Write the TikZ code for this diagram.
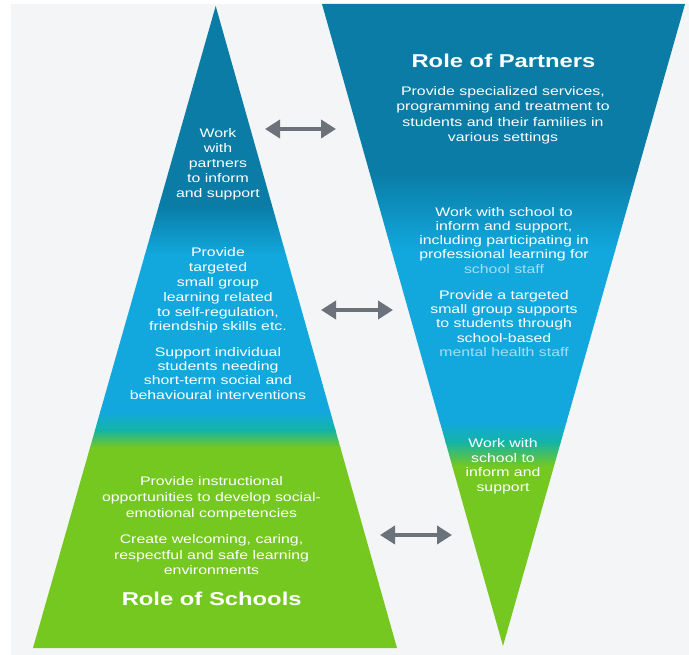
\documentclass[tikz,border=0pt]{standalone}
\usepackage{fontspec}
\setmainfont{Liberation Sans}[FakeStretch=1.28]
\usetikzlibrary{arrows.meta}

\definecolor{panel}{HTML}{F4F5F7}
\definecolor{deepblue}{RGB}{10,124,166}
\definecolor{skyblue}{RGB}{18,168,221}
\definecolor{tealband}{RGB}{20,180,165}
\definecolor{leafgreen}{RGB}{117,200,32}
\definecolor{arrowgray}{RGB}{107,114,121}
\definecolor{paletext}{RGB}{165,222,242}

\tikzset{
  body/.style={text=white, align=center, inner sep=0pt,
    font=\fontsize{12.4}{#1}\selectfont},
  body/.default=14.8,
  heading/.style={text=white, inner sep=0pt, anchor=base,
    font=\fontsize{18.6}{22}\selectfont\bfseries},
  bidir/.style={draw=arrowgray, line width=4pt,
    {Triangle[length=15pt,width=18pt]}-{Triangle[length=15pt,width=18pt]}},
}

\begin{document}
\begin{tikzpicture}[x=1pt,y=-1pt]
  % page and panel
  \useasboundingbox (0,0) rectangle (689,655);
  \fill[white] (0,0) rectangle (689,655);
  \fill[panel] (11,4) rectangle (689,655);

  % corners of the two triangles
  \coordinate (sApex) at (215.7,6);
  \coordinate (sRight) at (397,648);
  \coordinate (sLeft) at (33,648);
  \coordinate (pLeft) at (322,4);
  \coordinate (pRight) at (685,4);
  \coordinate (pTip) at (503,646);

  % schools pyramid: colour bands clipped to the triangle
  \begin{scope}
    \clip (sApex) -- (sRight) -- (sLeft) -- cycle;
    \fill[deepblue] (20,0) rectangle (410,205.5);
    \shade[top color=deepblue, bottom color=skyblue] (20,205) rectangle (410,255.5);
    \fill[skyblue] (20,255) rectangle (410,412.5);
    \shade[top color=skyblue, bottom color=tealband] (20,412) rectangle (410,430.5);
    \shade[top color=tealband, bottom color=leafgreen] (20,430) rectangle (410,447.5);
    \fill[leafgreen] (20,447) rectangle (410,660);
  \end{scope}

  % partners funnel: colour bands clipped to the triangle
  \begin{scope}
    \clip (pLeft) -- (pRight) -- (pTip) -- cycle;
    \fill[deepblue] (300,0) rectangle (689,172.5);
    \shade[top color=deepblue, bottom color=skyblue] (300,172) rectangle (689,250.5);
    \fill[skyblue] (300,250) rectangle (689,422.5);
    \shade[top color=skyblue, bottom color=tealband] (300,422) rectangle (689,442.5);
    \shade[top color=tealband, bottom color=leafgreen] (300,442) rectangle (689,466.5);
    \fill[leafgreen] (300,466) rectangle (689,660);
  \end{scope}

  % role of schools
  \node[body=15] (sPartners) at (218,164) {Work\\with\\partners\\to inform\\and support};
  \node[body=14.8] (sTargeted) at (218,290.7) {Provide\\targeted\\small group\\learning related\\to self-regulation,\\friendship skills etc.};
  \node[body=14.3] (sIndividual) at (218,373.3) {Support individual\\students needing\\short-term social and\\behavioural interventions};
  \node[body=15.8] (sInstruct) at (211.5,498.5) {Provide instructional\\opportunities to develop social-\\emotional competencies};
  \node[body=15.5] (sWelcome) at (211.5,554.8) {Create welcoming, caring,\\respectful and safe learning\\environments};
  \node[heading] (sTitle) at (211.7,605) {Role of Schools};

  % role of partners
  \node[heading] (pTitle) at (503.5,68) {Role of Partners};
  \node[body=15.5] (pServices) at (503,115.3) {Provide specialized services,\\programming and treatment to\\students and their families in\\various settings};
  \node[body=14.2] (pLearning) at (504,240.3) {Work with school to\\inform and support,\\including participating in\\professional learning for\\\textcolor{paletext}{school staff}};
  \node[body=14.3] (pGroups) at (504,323.3) {Provide a targeted\\small group supports\\to students through\\school-based\\\textcolor{paletext}{mental health staff}};
  \node[body=14.4] (pInform) at (503,466.3) {Work with\\school to\\inform and\\support};

  % two-way links between the levels
  \coordinate (aTopL) at (265,129);
  \coordinate (aTopR) at (336,129);
  \coordinate (aMidL) at (321,310);
  \coordinate (aMidR) at (393,310);
  \coordinate (aLowL) at (380,535);
  \coordinate (aLowR) at (452,535);
  \draw[bidir] (aTopL) -- (aTopR);
  \draw[bidir] (aMidL) -- (aMidR);
  \draw[bidir] (aLowL) -- (aLowR);
\end{tikzpicture}
\end{document}
